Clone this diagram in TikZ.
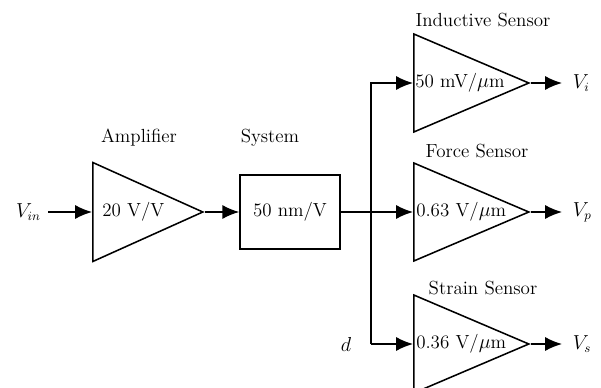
\documentclass[tikz,border=0pt]{standalone}
\usepackage{amsmath, amssymb}
\usepackage{tikz}
\usetikzlibrary{arrows.meta, positioning, shapes.geometric}

\begin{document}
\begin{tikzpicture}[x=0.025cm, y=-0.025cm, font=\fontsize{13.5}{16}\selectfont,
  gain/.style={draw, line width=1.1pt, isosceles triangle, isosceles triangle stretches, inner sep=0pt, anchor=west},
  gaintext/.style={anchor=west, inner sep=0pt},
  block/.style={draw, line width=1.1pt, minimum width=2.5cm, minimum height=1.85cm},
  sig/.style={line width=1.1pt, -{Latex[length=12pt, width=10pt]}},
  outlabel/.style={anchor=west, inner xsep=7.5pt}]
  \useasboundingbox (0,0) rectangle (601,388);
  \node[anchor=east, inner xsep=5pt] (vin) at (48,212) {$V_{in}$};
  \node[gain, minimum height=2.75cm, minimum width=2.475cm] (amp) at (92,212) {};
  \node[gaintext] (ampval) at (102,212) {20 V/V};
  \node (amplbl) at (139,138) {Amplifier};
  \node[block] (sys) at (290,212) {50 nm/V};
  \node (syslbl) at (270,138) {System};
  \node[gain, minimum height=2.875cm, minimum width=2.45cm] (ind) at (413,83) {};
  \node[gaintext] (indval) at (415,83) {50 mV/$\mu$m};
  \node (indlbl) at (483,20) {Inductive Sensor};
  \node[gain, minimum height=2.875cm, minimum width=2.45cm] (force) at (413,212) {};
  \node[gaintext] (forceval) at (416,212) {0.63 V/$\mu$m};
  \node (forcelbl) at (477,151) {Force Sensor};
  \node[gain, minimum height=2.875cm, minimum width=2.45cm] (strain) at (413,344) {};
  \node[gaintext] (strainval) at (416,344) {0.36 V/$\mu$m};
  \node (strainlbl) at (483,288) {Strain Sensor};
  \node (d) at (346,344) {$d$};
  \coordinate (split) at (371,344);
  \node[outlabel] (vi) at (562,83) {$V_i$};
  \node[outlabel] (vp) at (562,212) {$V_p$};
  \node[outlabel] (vs) at (562,344) {$V_s$};
  \draw[sig] (vin) -- (amp.west);
  \draw[sig] (amp.east) -- (sys.west);
  \draw[sig] (sys.east) -- (force.west);
  \draw[sig] (split) -- (strain.west);
  \draw[sig] (split) |- (ind.west);
  \draw[sig] (ind.east) -- (vi.west);
  \draw[sig] (force.east) -- (vp.west);
  \draw[sig] (strain.east) -- (vs.west);
\end{tikzpicture}
\end{document}
